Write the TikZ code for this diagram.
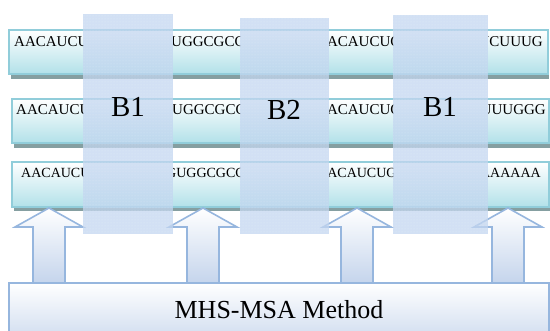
\documentclass[tikz,border=0pt]{standalone}
\usepackage{fontspec}
\setmainfont{Liberation Serif}
\usetikzlibrary{patterns}
\definecolor{msaBarBot}{RGB}{178,225,233}
\definecolor{msaBarLine}{RGB}{145,205,218}
\definecolor{msaShadow}{RGB}{112,142,144}
\definecolor{msaBlock}{RGB}{195,214,240}
\definecolor{msaArrow}{RGB}{150,182,222}
\definecolor{msaArrowBot}{RGB}{196,212,236}
\definecolor{msaBoxBot}{RGB}{210,222,240}
\tikzstyle{seqbar}=[top color=white, bottom color=msaBarBot, draw=msaBarLine, line width=1.6pt]
\tikzstyle{seqshadow}=[fill=msaShadow, opacity=0.85]
\tikzstyle{seq}=[anchor=base west, inner sep=0pt, font=\fontsize{15}{15}\selectfont]
\tikzstyle{seqend}=[seq, anchor=base east]
\tikzstyle{blockbox}=[fill=msaBlock, opacity=0.75]
\tikzstyle{blocklabel}=[inner sep=0pt, font=\fontsize{29}{29}\selectfont]
\tikzstyle{uparrow}=[top color=white, bottom color=msaArrowBot, draw=msaArrow, line width=1.6pt]
\tikzstyle{methodbox}=[top color=white, bottom color=msaBoxBot, draw=msaArrow, line width=1.6pt,
  font=\fontsize{26}{26}\selectfont, minimum width=540pt, minimum height=54pt, inner sep=0pt]

\begin{document}
\begin{tikzpicture}[x=1pt, y=-1pt]
			\useasboundingbox (0,0) rectangle (550,331);

			% Sequence rows
			\fill[seqshadow] (11,70) rectangle (549,79);
			\fill[seqshadow] (14,139) rectangle (550,148);
			\fill[seqshadow] (14,203) rectangle (550,211);
			\shade[seqbar] (9,30) rectangle (548,74);
			\shade[seqbar] (12,99) rectangle (549,143);
			\shade[seqbar] (12,162) rectangle (549,207);
			\draw[msaBarLine, line width=1.6pt] (9,30) rectangle (548,74);
			\draw[msaBarLine, line width=1.6pt] (12,99) rectangle (549,143);
			\draw[msaBarLine, line width=1.6pt] (12,162) rectangle (549,207);

			% Visible parts of the sequences between the blocks
			\begin{scope}
				\clip (9,20) rectangle (83,215) (173,20) rectangle (240,215)
					(329,20) rectangle (393,215) (488,20) rectangle (549,215);
				\node[seq] (s11) at ( 14,47) {AACAUCUG};
				\node[seq] (s12) at (171,47) {UGGCGCCU};
				\node[seq] (s13) at (316,47) {AACAUCUG};
				\node[seqend] (s14) at (543,47) {UCUUUG};

				\node[seq] (s21) at ( 16,115) {AACAUCUG};
				\node[seq] (s22) at (172,115) {UGGCGCCU};
				\node[seq] (s23) at (316,115) {AACAUCUG};
				\node[seqend] (s24) at (546,115) {UUUGGG};

				\node[seq, font=\fontsize{14}{14}\selectfont] (s31) at ( 21,178) {AACAUCU};
				\node[seq, font=\fontsize{14}{14}\selectfont] (s32) at (166,178) {GUGGCGCC};
				\node[seq, font=\fontsize{14}{14}\selectfont] (s33) at (317,178) {AACAUCUG};
				\node[seqend, font=\fontsize{14}{14}\selectfont] (s34) at (541,178) {AAAAAA};
			\end{scope}

			% Arrows from the method up to the rows
			\foreach \cx in {49, 203, 357, 508}{
				\shadedraw[uparrow] (\cx,208) -- (\cx+34,227) -- (\cx+16,227) -- (\cx+16,284)
					-- (\cx-16,284) -- (\cx-16,227) -- (\cx-34,227) -- cycle;
			}

			% Blocks
			\foreach \xa/\ya/\xb in {83/14/173, 240/18/329, 393/15/488}{
				\fill[blockbox] (\xa,\ya) rectangle (\xb,234);
				\fill[pattern=dots, pattern color=white, opacity=0.35] (\xa,\ya) rectangle (\xb,234);
			}
			\node[blocklabel] (b1) at (128,107) {B1};
			\node[blocklabel] (b2) at (284,110) {B2};
			\node[blocklabel] (b3) at (440,107) {B1};

			% Method
			\node[methodbox] (method) at (279,310) {MHS-MSA Method};
		\end{tikzpicture}
\end{document}
